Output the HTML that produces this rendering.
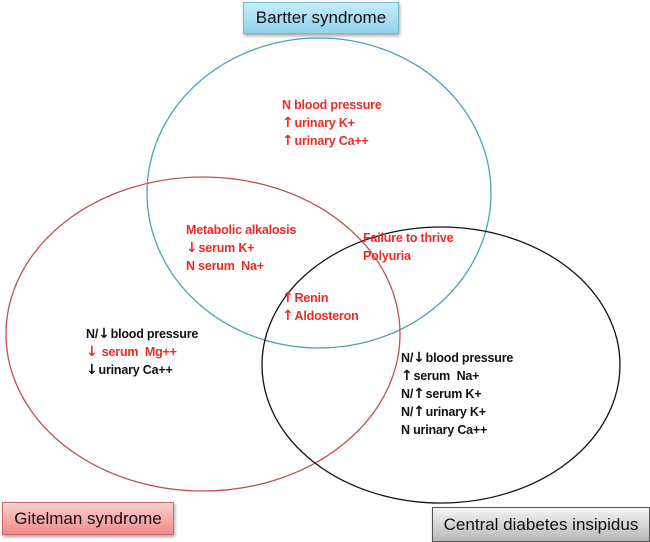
<!DOCTYPE html>
<html><head><meta charset="utf-8"><style>
body{margin:0;background:#fff;width:650px;height:542px;overflow:hidden;position:relative;font-family:"Liberation Sans",sans-serif}
.t{position:absolute;font-size:12.5px;font-weight:bold;line-height:18px;white-space:nowrap;letter-spacing:-0.2px}
.r{color:#ee2a24}.k{color:#111}
.a{font-family:"DejaVu Sans",sans-serif;font-size:14px;font-weight:bold;margin-right:1px}
.box{position:absolute;font-size:17px;color:#111;display:flex;align-items:center;justify-content:center;box-shadow:1px 2px 3px rgba(0,0,0,.35)}
</style></head><body>
<svg width="650" height="542" style="position:absolute;left:0;top:0">
<ellipse cx="319" cy="193" rx="172" ry="155" fill="none" stroke="#4aa3b8" stroke-width="1.3"/>
<ellipse cx="203" cy="334" rx="197" ry="157" fill="none" stroke="#c0504d" stroke-width="1.3"/>
<ellipse cx="441" cy="365" rx="179" ry="138" fill="none" stroke="#111" stroke-width="1.3"/>
</svg>
<div class="box" style="left:243px;top:2px;width:154px;height:30px;background:linear-gradient(#c6ecf8,#8fd3ec);border:1px solid #7ab8cc">Bartter syndrome</div>
<div class="box" style="left:2px;top:502px;width:170px;height:31px;background:linear-gradient(#fbd0d0,#f08a8a);border:1px solid #c96a6a">Gitelman syndrome</div>
<div class="box" style="left:432px;top:507px;width:216px;height:33px;background:linear-gradient(#f4f4f4,#b8b8b8);border:1px solid #555">Central diabetes insipidus</div>
<div class="t r" style="left:282px;top:96px">N blood pressure<br><span class="a">↑</span>urinary K+<br><span class="a">↑</span>urinary Ca++</div>
<div class="t r" style="left:186px;top:221px">Metabolic alkalosis<br><span class="a">↓</span>serum K+<br>N serum&nbsp; Na+</div>
<div class="t r" style="left:363px;top:229px">Failure to thrive<br>Polyuria</div>
<div class="t r" style="left:282px;top:289px"><span class="a">↑</span>Renin<br><span class="a">↑</span>Aldosteron</div>
<div class="t k" style="left:86px;top:325px">N/<span class="a">↓</span>blood pressure<br><span class="r"><span class="a">↓</span> serum&nbsp; Mg++</span><br><span class="a">↓</span>urinary Ca++</div>
<div class="t k" style="left:401px;top:349px">N/<span class="a">↓</span>blood pressure<br><span class="a">↑</span>serum&nbsp; Na+<br>N/<span class="a">↑</span>serum K+<br>N/<span class="a">↑</span>urinary K+<br>N urinary Ca++</div>
</body></html>
